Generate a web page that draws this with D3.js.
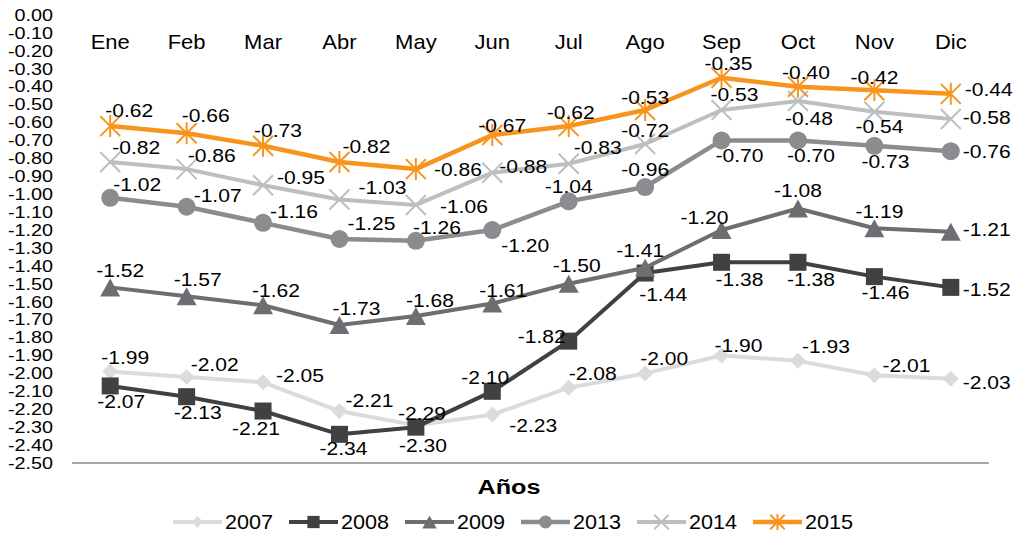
<!DOCTYPE html>
<html>
<head>
<meta charset="utf-8">
<script src="https://cdn.jsdelivr.net/npm/d3@7"></script>
<style>
  html, body { margin: 0; padding: 0; background: #fff; }
  svg { display: block; font-family: "Liberation Sans", Arial, Helvetica, sans-serif; }
</style>
</head>
<body>
<svg id="chart" width="1018" height="537"></svg>
<script>
// Monthly values per year
const months = ["Ene", "Feb", "Mar", "Abr", "May", "Jun", "Jul", "Ago", "Sep", "Oct", "Nov", "Dic"];
const years = ["2007", "2008", "2009", "2013", "2014", "2015"];
const v2007 = [-1.99, -2.02, -2.05, -2.21, -2.29, -2.23, -2.08, -2.00, -1.90, -1.93, -2.01, -2.03];
const v2008 = [-2.07, -2.13, -2.21, -2.34, -2.30, -2.10, -1.82, -1.44, -1.38, -1.38, -1.46, -1.52];
const v2009 = [-1.52, -1.57, -1.62, -1.73, -1.68, -1.61, -1.50, -1.41, -1.20, -1.08, -1.19, -1.21];
const v2013 = [-1.02, -1.07, -1.16, -1.25, -1.26, -1.20, -1.04, -0.96, -0.70, -0.70, -0.73, -0.76];
const v2014 = [-0.82, -0.86, -0.95, -1.03, -1.06, -0.88, -0.83, -0.72, -0.53, -0.48, -0.54, -0.58];
const v2015 = [-0.62, -0.66, -0.73, -0.82, -0.86, -0.67, -0.62, -0.53, -0.35, -0.40, -0.42, -0.44];
const yMin = -2.5, yMax = 0;
const xTitle = "Años";

const seriesValues = [v2007, v2008, v2009, v2013, v2014, v2015];

// Appearance of each year's line and marker
const styles = {
  "2007": { color: "#dadbdc", width: 4,   marker: "diamond" },
  "2008": { color: "#414042", width: 4,   marker: "square" },
  "2009": { color: "#6d6e71", width: 4,   marker: "triangle" },
  "2013": { color: "#8b8c8f", width: 4.5, marker: "circle" },
  "2014": { color: "#bcbec0", width: 4,   marker: "x" },
  "2015": { color: "#f7941e", width: 4.5, marker: "star" }
};

// Data label nudges [dx, dy] from each point to the label centre
const labelNudge = {
  "2007": [[15,-14],[28,-12],[37,-7],[30,-11],[6,-12],[41,11],[24,-14],[19,-15],[17,-10],[28,-14],[32,-10],[36,4]],
  "2008": [[11,16],[11,16],[-7,17],[4,14],[7,18],[-7,-14],[-27,-5],[18,21],[18,17],[13,17],[11,16],[36,2]],
  "2009": [[10,-17],[11,-17],[13,-15],[17,-17],[14,-16],[11,-13],[8,-18],[-5,-17],[-17,-13],[0,-18],[5,-17],[36,-2]],
  "2013": [[27,-13],[31,-11],[31,-11],[32,-15],[21,-13],[33,15],[0,-15],[0,-18],[18,15],[13,15],[11,16],[36,0]],
  "2014": [[26,-14],[25,-14],[38,-8],[43,-12],[48,2],[31,-6],[29,-16],[0,-14],[13,-15],[11,17],[5,15],[36,-1]],
  "2015": [[19,-16],[19,-18],[15,-15],[27,-15],[42,0],[10,-10],[2,-14],[0,-12],[7,-14],[8,-14],[0,-13],[38,-4]]
};

const fmt = d3.formatLocale({ decimal: ".", thousands: ",", grouping: [3], currency: ["$", ""], minus: "-" }).format(".2f");

// The typeface is set slightly wide: stretch text horizontally about its anchor
const wide = k => `scale(${k},1)`;

const svg = d3.select("#chart");
const plot = { left: 72, right: 989, top: 15, bottom: 463 };

const x = d3.scaleBand().domain(months).range([plot.left, plot.right]).padding(0);
const xc = m => x(m) + x.bandwidth() / 2;
const y = d3.scaleLinear().domain([yMin, yMax]).range([plot.bottom, plot.top]);

// Y axis: labels only
const yAxis = svg.append("g")
  .attr("transform", `translate(${plot.left - 19},0)`)
  .call(d3.axisLeft(y).ticks(25).tickSize(0).tickPadding(0).tickFormat(fmt));
yAxis.select(".domain").remove();
yAxis.selectAll("text")
  .attr("font-size", 16.5).attr("font-family", null).attr("fill", "#000")
  .attr("transform", wide(1.2));

// Month labels along the top
const xAxis = svg.append("g")
  .attr("transform", `translate(0,${y(-0.19)})`)
  .call(d3.axisTop(x).tickSize(0).tickPadding(0));
xAxis.select(".domain").remove();
xAxis.selectAll("text")
  .attr("font-size", 20).attr("font-family", null).attr("fill", "#000")
  .attr("transform", wide(1.1));

// Horizontal axis line at the bottom of the plot
svg.append("line")
  .attr("x1", plot.left).attr("x2", plot.right)
  .attr("y1", y(yMin)).attr("y2", y(yMin))
  .attr("stroke", "#8a8a8a").attr("stroke-width", 1.5);

// Marker drawing
function drawMarker(g, kind, color, s) {
  s = s || 1;
  if (kind === "diamond") {
    const r = 8 * s;
    g.append("path").attr("d", `M0,${-r}L${r},0L0,${r}L${-r},0Z`).attr("fill", color);
  } else if (kind === "square") {
    const h = 8.5 * s;
    g.append("rect").attr("x", -h).attr("y", -h).attr("width", 2 * h).attr("height", 2 * h).attr("fill", color);
  } else if (kind === "triangle") {
    const w = 10 * s, h = 9 * s;
    g.append("path").attr("d", `M0,${-h}L${w},${h}L${-w},${h}Z`).attr("fill", color);
  } else if (kind === "circle") {
    g.append("circle").attr("r", 9 * s).attr("fill", color);
  } else if (kind === "x") {
    const r = 10 * s;
    g.append("path").attr("d", `M${-r},${-r}L${r},${r}M${-r},${r}L${r},${-r}`)
      .attr("stroke", color).attr("stroke-width", 2).attr("fill", "none");
  } else if (kind === "star") {
    const r = 10 * s, v = 11 * s;
    g.append("path").attr("d", `M${-r},${-r}L${r},${r}M${-r},${r}L${r},${-r}M0,${-v}L0,${v}`)
      .attr("stroke", color).attr("stroke-width", 2).attr("fill", "none");
  }
}

const line = d3.line().x(d => xc(d.m)).y(d => y(d.v));

const series = years.map((yr, i) => ({
  name: yr,
  style: styles[yr],
  points: months.map((m, j) => ({ m, v: seriesValues[i][j], nudge: labelNudge[yr][j] }))
}));

// Lines and markers, one year at a time
series.forEach(s => {
  const g = svg.append("g").attr("class", "series");
  g.append("path")
    .attr("d", line(s.points))
    .attr("fill", "none")
    .attr("stroke", s.style.color)
    .attr("stroke-width", s.style.width)
    .attr("stroke-linejoin", "round");
  s.points.forEach(p => {
    const mg = g.append("g").attr("transform", `translate(${xc(p.m)},${y(p.v)})`);
    drawMarker(mg, s.style.marker, s.style.color);
  });
});

// Data labels on top
const labels = svg.append("g").attr("font-size", 18).attr("fill", "#000").attr("text-anchor", "middle");
series.forEach(s => {
  s.points.forEach(p => {
    labels.append("g")
      .attr("transform", `translate(${xc(p.m) + p.nudge[0]},${y(p.v) + p.nudge[1]})`)
      .append("text")
      .attr("dy", "0.36em")
      .attr("transform", wide(1.17))
      .text(fmt(p.v));
  });
});

// Axis title
svg.append("g").attr("transform", "translate(509,494)")
  .append("text")
  .attr("text-anchor", "middle")
  .attr("font-size", 21).attr("font-weight", "bold")
  .attr("transform", wide(1.2))
  .text(xTitle);

// Legend
const legend = svg.append("g").attr("transform", "translate(173,522)");
series.forEach((s, i) => {
  const g = legend.append("g").attr("transform", `translate(${i * 116},0)`);
  g.append("line").attr("x1", 0).attr("x2", 49).attr("y1", 0).attr("y2", 0)
    .attr("stroke", s.style.color).attr("stroke-width", s.style.width);
  const mg = g.append("g").attr("transform", "translate(24.5,0)");
  drawMarker(mg, s.style.marker, s.style.color, 0.72);
  g.append("g").attr("transform", "translate(52,0)")
    .append("text").attr("dy", "0.36em").attr("font-size", 20)
    .attr("transform", wide(1.08))
    .text(s.name);
});
</script>
</body>
</html>
